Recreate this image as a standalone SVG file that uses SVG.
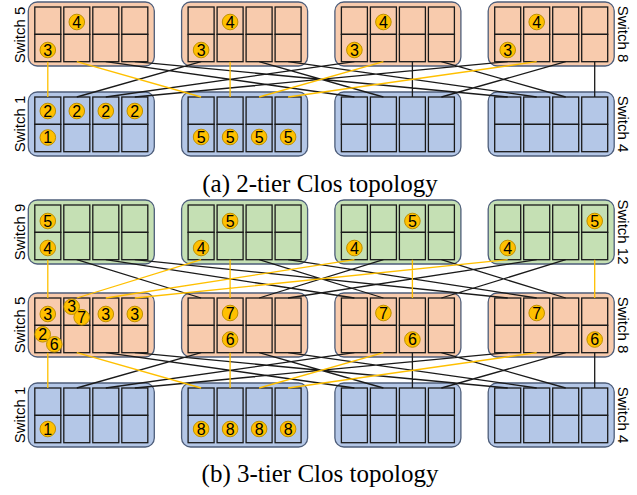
<svg xmlns="http://www.w3.org/2000/svg" xmlns:xlink="http://www.w3.org/1999/xlink" width="637" height="495" viewBox="0 0 637 495">
<style>
.box{stroke:#4d5d7a;stroke-width:1.3}
.or{fill:#f8cbad}.bl{fill:#b4c7e7}.gr{fill:#c5e0b4}
.cell{fill:none;stroke:#1a1a1a;stroke-width:1.3}
.bd circle{fill:#ffc000;stroke:#bf9000;stroke-width:1}
.bd text{font-family:"Liberation Sans",Arial,sans-serif;font-size:16px;text-anchor:middle;fill:#000}
.lbl{font-family:"Liberation Sans",Arial,sans-serif;font-size:15px;text-anchor:middle;fill:#000}
.cap{font-family:"Liberation Serif","Times New Roman",serif;font-size:25px;text-anchor:middle;fill:#000}
.k{stroke:#1a1a1a;stroke-width:1.3;fill:none}
.y{stroke:#ffc000;stroke-width:1.3;fill:none}
</style>
<defs>
<g id="grid">
<rect class="cell" x="6.5" y="5" width="26" height="27.35"/><rect class="cell" x="6.5" y="32.35" width="26" height="27.35"/>
<rect class="cell" x="35.5" y="5" width="26" height="27.35"/><rect class="cell" x="35.5" y="32.35" width="26" height="27.35"/>
<rect class="cell" x="64.5" y="5" width="26" height="27.35"/><rect class="cell" x="64.5" y="32.35" width="26" height="27.35"/>
<rect class="cell" x="93.5" y="5" width="26" height="27.35"/><rect class="cell" x="93.5" y="32.35" width="26" height="27.35"/>
</g>
</defs>

<!-- (a) 2-tier -->
<g id="a-s5" transform="translate(28.3,2)"><rect class="box or" width="126" height="64" rx="9"/><use xlink:href="#grid"/>
<g class="bd"><circle cx="48.5" cy="20" r="7.8"/><text x="48.5" y="25.7">4</text><circle cx="19.5" cy="48" r="7.8"/><text x="19.5" y="53.7">3</text></g></g>
<g id="a-s6" transform="translate(181.6,2)"><rect class="box or" width="126" height="64" rx="9"/><use xlink:href="#grid"/>
<g class="bd"><circle cx="48.5" cy="20" r="7.8"/><text x="48.5" y="25.7">4</text><circle cx="19.5" cy="48" r="7.8"/><text x="19.5" y="53.7">3</text></g></g>
<g id="a-s7" transform="translate(334.9,2)"><rect class="box or" width="126" height="64" rx="9"/><use xlink:href="#grid"/>
<g class="bd"><circle cx="48.5" cy="20" r="7.8"/><text x="48.5" y="25.7">4</text><circle cx="19.5" cy="48" r="7.8"/><text x="19.5" y="53.7">3</text></g></g>
<g id="a-s8" transform="translate(488.2,2)"><rect class="box or" width="126" height="64" rx="9"/><use xlink:href="#grid"/>
<g class="bd"><circle cx="48.5" cy="20" r="7.8"/><text x="48.5" y="25.7">4</text><circle cx="19.5" cy="48" r="7.8"/><text x="19.5" y="53.7">3</text></g></g>

<g id="a-s1" transform="translate(28.3,92)"><rect class="box bl" width="126" height="64" rx="9"/><use xlink:href="#grid"/>
<g class="bd"><circle cx="19.5" cy="19" r="7.8"/><text x="19.5" y="24.7">2</text><circle cx="48.5" cy="19" r="7.8"/><text x="48.5" y="24.7">2</text><circle cx="77.5" cy="19" r="7.8"/><text x="77.5" y="24.7">2</text><circle cx="106.5" cy="19" r="7.8"/><text x="106.5" y="24.7">2</text><circle cx="19.5" cy="45.5" r="7.8"/><text x="19.5" y="51.2">1</text></g></g>
<g id="a-s2" transform="translate(181.6,92)"><rect class="box bl" width="126" height="64" rx="9"/><use xlink:href="#grid"/>
<g class="bd"><circle cx="19.5" cy="45" r="7.8"/><text x="19.5" y="50.7">5</text><circle cx="48.5" cy="45" r="7.8"/><text x="48.5" y="50.7">5</text><circle cx="77.5" cy="45" r="7.8"/><text x="77.5" y="50.7">5</text><circle cx="106.5" cy="45" r="7.8"/><text x="106.5" y="50.7">5</text></g></g>
<g id="a-s3" transform="translate(334.9,92)"><rect class="box bl" width="126" height="64" rx="9"/><use xlink:href="#grid"/></g>
<g id="a-s4" transform="translate(488.2,92)"><rect class="box bl" width="126" height="64" rx="9"/><use xlink:href="#grid"/></g>

<!-- (b) 3-tier -->
<g id="b-s9" transform="translate(28.3,200)"><rect class="box gr" width="126" height="64" rx="9"/><use xlink:href="#grid"/>
<g class="bd"><circle cx="19.5" cy="21" r="7.8"/><text x="19.5" y="26.7">5</text><circle cx="19.5" cy="48" r="7.8"/><text x="19.5" y="53.7">4</text></g></g>
<g id="b-s10" transform="translate(181.6,200)"><rect class="box gr" width="126" height="64" rx="9"/><use xlink:href="#grid"/>
<g class="bd"><circle cx="48.5" cy="21" r="7.8"/><text x="48.5" y="26.7">5</text><circle cx="19.5" cy="48" r="7.8"/><text x="19.5" y="53.7">4</text></g></g>
<g id="b-s11" transform="translate(334.9,200)"><rect class="box gr" width="126" height="64" rx="9"/><use xlink:href="#grid"/>
<g class="bd"><circle cx="77.5" cy="21" r="7.8"/><text x="77.5" y="26.7">5</text><circle cx="19.5" cy="48" r="7.8"/><text x="19.5" y="53.7">4</text></g></g>
<g id="b-s12" transform="translate(488.2,200)"><rect class="box gr" width="126" height="64" rx="9"/><use xlink:href="#grid"/>
<g class="bd"><circle cx="106.5" cy="21" r="7.8"/><text x="106.5" y="26.7">5</text><circle cx="19.5" cy="48" r="7.8"/><text x="19.5" y="53.7">4</text></g></g>

<g id="b-s5" transform="translate(28.3,293)"><rect class="box or" width="126" height="64" rx="9"/><use xlink:href="#grid"/>
<g class="bd"><circle cx="19.5" cy="21" r="7.8"/><text x="19.5" y="26.7">3</text>
<circle cx="43.4" cy="13.7" r="7.8"/><text x="43.4" y="19.4">3</text><circle cx="53.4" cy="24.3" r="7.8"/><text x="53.4" y="30">7</text>
<circle cx="77.5" cy="21" r="7.8"/><text x="77.5" y="26.7">3</text><circle cx="106.5" cy="21" r="7.8"/><text x="106.5" y="26.7">3</text>
<circle cx="14.4" cy="41.3" r="7.8"/><text x="14.4" y="47">2</text><circle cx="26" cy="51.3" r="7.8"/><text x="26" y="57">6</text></g></g>
<g id="b-s6" transform="translate(181.6,293)"><rect class="box or" width="126" height="64" rx="9"/><use xlink:href="#grid"/>
<g class="bd"><circle cx="48.5" cy="20" r="7.8"/><text x="48.5" y="25.7">7</text><circle cx="48.5" cy="46.5" r="7.8"/><text x="48.5" y="52.2">6</text></g></g>
<g id="b-s7" transform="translate(334.9,293)"><rect class="box or" width="126" height="64" rx="9"/><use xlink:href="#grid"/>
<g class="bd"><circle cx="48.5" cy="20" r="7.8"/><text x="48.5" y="25.7">7</text><circle cx="77.5" cy="46.5" r="7.8"/><text x="77.5" y="52.2">6</text></g></g>
<g id="b-s8" transform="translate(488.2,293)"><rect class="box or" width="126" height="64" rx="9"/><use xlink:href="#grid"/>
<g class="bd"><circle cx="48.5" cy="20" r="7.8"/><text x="48.5" y="25.7">7</text><circle cx="106.5" cy="46.5" r="7.8"/><text x="106.5" y="52.2">6</text></g></g>

<g id="b-s1" transform="translate(28.3,383)"><rect class="box bl" width="126" height="64" rx="9"/><use xlink:href="#grid"/>
<g class="bd"><circle cx="19.5" cy="46" r="7.8"/><text x="19.5" y="51.7">1</text></g></g>
<g id="b-s2" transform="translate(181.6,383)"><rect class="box bl" width="126" height="64" rx="9"/><use xlink:href="#grid"/>
<g class="bd"><circle cx="19.5" cy="46" r="7.8"/><text x="19.5" y="51.7">8</text><circle cx="48.5" cy="46" r="7.8"/><text x="48.5" y="51.7">8</text><circle cx="77.5" cy="46" r="7.8"/><text x="77.5" y="51.7">8</text><circle cx="106.5" cy="46" r="7.8"/><text x="106.5" y="51.7">8</text></g></g>
<g id="b-s3" transform="translate(334.9,383)"><rect class="box bl" width="126" height="64" rx="9"/><use xlink:href="#grid"/></g>
<g id="b-s4" transform="translate(488.2,383)"><rect class="box bl" width="126" height="64" rx="9"/><use xlink:href="#grid"/></g>

<g id="connectors">
<!-- (a) -->
<path class="k" d="M105.8 61.7L354.4 97M134.8 61.7L507.7 97M201.1 61.7L76.8 97M259.1 61.7L383.4 97M288.1 61.7L536.7 97M354.4 61.7L105.8 97M412.4 61.7L412.4 97M441.4 61.7L565.7 97M507.7 61.7L134.8 97M565.7 61.7L441.4 97M594.7 61.7L594.7 97"/>
<path class="y" d="M47.8 61.7L47.8 97M76.8 61.7L201.1 97M230.1 61.7L230.1 97M383.4 61.7L259.1 97M536.7 61.7L288.1 97"/>
<!-- (b) upper -->
<path class="k" d="M76.8 259.7L201.1 298M105.8 259.7L354.4 298M134.8 259.7L507.7 298M259.1 259.7L383.4 298M288.1 259.7L536.7 298M383.4 259.7L259.1 298M441.4 259.7L565.7 298M536.7 259.7L288.1 298M565.7 259.7L441.4 298"/>
<path class="y" d="M47.8 259.7L47.8 298M201.1 259.7L76.8 298M230.1 259.7L230.1 298M354.4 259.7L105.8 298M412.4 259.7L412.4 298M507.7 259.7L134.8 298M594.7 259.7L594.7 298"/>
<!-- (b) lower -->
<path class="k" d="M105.8 352.7L354.4 388M134.8 352.7L507.7 388M201.1 352.7L76.8 388M259.1 352.7L383.4 388M288.1 352.7L536.7 388M354.4 352.7L105.8 388M412.4 352.7L412.4 388M441.4 352.7L565.7 388M507.7 352.7L134.8 388M565.7 352.7L441.4 388M594.7 352.7L594.7 388"/>
<path class="y" d="M47.8 352.7L47.8 388M76.8 352.7L201.1 388M230.1 352.7L230.1 388M383.4 352.7L259.1 388M536.7 352.7L288.1 388"/>
</g>

<g id="labels">
<text class="lbl" transform="translate(25,35) rotate(-90)">Switch 5</text>
<text class="lbl" transform="translate(25,124) rotate(-90)">Switch 1</text>
<text class="lbl" transform="translate(618,34) rotate(90)">Switch 8</text>
<text class="lbl" transform="translate(618,124) rotate(90)">Switch 4</text>
<text class="lbl" transform="translate(25,232) rotate(-90)">Switch 9</text>
<text class="lbl" transform="translate(25,325) rotate(-90)">Switch 5</text>
<text class="lbl" transform="translate(25,415) rotate(-90)">Switch 1</text>
<text class="lbl" transform="translate(618,232) rotate(90)">Switch 12</text>
<text class="lbl" transform="translate(618,325) rotate(90)">Switch 8</text>
<text class="lbl" transform="translate(618,415) rotate(90)">Switch 4</text>
<text class="cap" x="320" y="192">(a) 2-tier Clos topology</text>
<text class="cap" x="320" y="482">(b) 3-tier Clos topology</text>
</g>
</svg>
